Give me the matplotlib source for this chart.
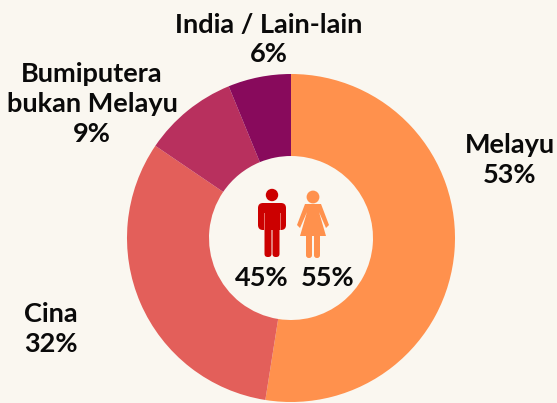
import matplotlib
matplotlib.use("Agg")
import matplotlib.pyplot as plt
from matplotlib.patches import Circle, FancyBboxPatch, Polygon

# Ethnic breakdown, clockwise from the top
groups = ["Melayu", "Cina", "Bumiputera\nbukan Melayu", "India / Lain-lain"]
labels = [53, 32, 9, 6]
# slice sizes
shares = [52.5, 32, 9.3, 6.2]
colors = ["#FF914D", "#E35F5A", "#B8305E", "#880A5C"]

# Gender split in the hole
gender_shares = [45, 55]

bg = "#FAF7F0"
man_color = "#CC0000"
woman_color = "#FF914D"

plt.rcParams["font.family"] = ["Lato", "DejaVu Sans"]

fig = plt.figure(figsize=(5.57, 4.03), dpi=100, facecolor=bg)
ax = fig.add_axes([0, 0, 1, 1])

wedges, _ = ax.pie(shares, colors=colors, startangle=90, counterclock=False,
                   center=(291, 238), radius=164, frame=True,
                   wedgeprops={"width": 82, "linewidth": 0})
ax.set_xlim(0, 557)
ax.set_ylim(403, 0)
ax.set_aspect("auto")
ax.axis("off")

# pie is drawn in a y-down axis, so flip the wedges back
for w in wedges:
    t1, t2 = w.theta1, w.theta2
    w.set_theta1(-t2)
    w.set_theta2(-t1)


def rounded(x, y, w, h, r, color):
    ax.add_patch(FancyBboxPatch((x + r, y + r), w - 2 * r, h - 2 * r,
                                boxstyle=f"round,pad={r}", fc=color, ec="none"))


# man icon
ax.add_patch(Circle((272, 195), 6.2, fc=man_color, ec="none"))
rounded(258, 203, 28, 27, 5, man_color)
rounded(264.5, 205, 7, 52, 3.2, man_color)
rounded(272.5, 205, 7, 52, 3.2, man_color)
ax.plot([264, 264], [213, 229], color="#E8706A", lw=0.7)
ax.plot([280, 280], [213, 229], color="#E8706A", lw=0.7)

# woman icon
ax.add_patch(Circle((313, 197), 6.4, fc=woman_color, ec="none"))
ax.add_patch(Polygon([(305, 204), (321, 204), (329, 225), (326, 228), (319, 212),
                      (326, 236), (300, 236), (307, 212), (300, 228), (297, 225)],
                     closed=True, fc=woman_color, ec="none"))
rounded(306, 232, 6, 26, 2.8, woman_color)
rounded(314, 232, 6, 26, 2.8, woman_color)

font = {"fontsize": 19.5, "fontweight": "bold", "color": "#0A0A0A",
        "ha": "center", "va": "center", "linespacing": 1.3}

ax.text(510, 160, f"{groups[0]}\n{labels[0]}%", **font)
ax.text(51, 329, f"{groups[1]}\n{labels[1]}%", **font)
ax.text(92, 104, f"{groups[2]}\n{labels[2]}%", **font)
ax.text(269, 39.5, f"{groups[3]}\n{labels[3]}%", **font)
ax.text(262, 278, f"{gender_shares[0]}%", **font)
ax.text(328, 278, f"{gender_shares[1]}%", **font)

fig.savefig("out.png", dpi=100, facecolor=bg)
